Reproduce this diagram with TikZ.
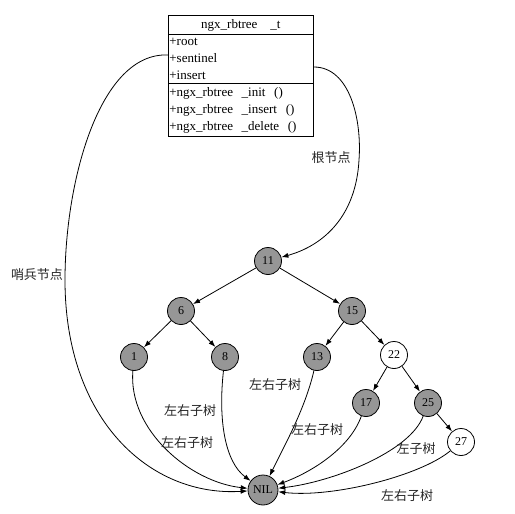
\documentclass[tikz,border=0pt]{standalone}
\usepackage{fontspec}
\setmainfont{Liberation Serif}
\newfontfamily\cjk{Noto Sans CJK SC}
\usepackage{tikz}
\usetikzlibrary{arrows.meta}
\usetikzlibrary{shapes.multipart}
\definecolor{nodeGray}{RGB}{150,150,150}

\begin{document}
\begin{tikzpicture}[x=1pt,y=-1pt]
\tikzset{
    keyNode/.style={
                   draw,
                   thick,
                   circle,
                   fill=nodeGray,
                   minimum size=27pt,
                   inner sep=0pt,
                   font=\fontsize{12}{12}\selectfont
    },
    redNode/.style={keyNode, fill=white},
    nilNode/.style={keyNode, minimum size=30pt},
    tagText/.style={font=\cjk\fontsize{13}{13}\selectfont, text=black!85}
}
    \useasboundingbox (0,0) rectangle (515,514);

    \node (rbt)[draw, thick, rectangle split, rectangle split parts=3,
        text width=143pt, inner xsep=1pt, inner ysep=3.3pt,
        font=\fontsize{13}{17}\selectfont, anchor=north west] at (168,15)
        {\makebox[143pt]{ngx\_rbtree\ \ \ \_t}
         \nodepart{second}\raggedright +root\\+sentinel\\+insert
         \nodepart{third}\raggedright +ngx\_rbtree\ \ \_init\ \ ()\\+ngx\_rbtree\ \ \_insert\ \ ()\\+ngx\_rbtree\ \ \_delete\ \ ()};

    \node (K11)[keyNode] at (268,261) {11};
    \node (K6)[keyNode] at (181,311) {6};
    \node (K15)[keyNode] at (352,311) {15};
    \node (K1)[keyNode] at (134,357) {1};
    \node (K8)[keyNode] at (225,357) {8};
    \node (K13)[keyNode] at (317,357) {13};
    \node (K22)[redNode] at (394,355) {22};
    \node (K17)[keyNode] at (366,403) {17};
    \node (K25)[keyNode] at (428,403) {25};
    \node (K27)[redNode] at (461,442) {27};
    \node (NIL)[nilNode] at (263,490) {NIL};

    \draw[->, thick, >={Latex[length=7pt,width=5pt]}] (K11) -- (K6);
    \draw[->, thick, >={Latex[length=7pt,width=5pt]}] (K11) -- (K15);
    \draw[->, thick, >={Latex[length=7pt,width=5pt]}] (K6) -- (K1);
    \draw[->, thick, >={Latex[length=7pt,width=5pt]}] (K6) -- (K8);
    \draw[->, thick, >={Latex[length=7pt,width=5pt]}] (K15) -- (K13);
    \draw[->, thick, >={Latex[length=7pt,width=5pt]}] (K15) -- (K22);
    \draw[->, thick, >={Latex[length=7pt,width=5pt]}] (K22) -- (K17);
    \draw[->, thick, >={Latex[length=7pt,width=5pt]}] (K22) -- (K25);
    \draw[->, thick, >={Latex[length=7pt,width=5pt]}] (K25) -- (K27);

    % struct fields to the tree
    \draw[->, thick, >={Latex[length=7pt,width=5pt]}] ([yshift=-52pt]rbt.north east)
        .. controls (350,67) and (362,120) .. (359,160)
        .. controls (356,215) and (325,245) .. (K11);
    \draw[->, thick, >={Latex[length=7pt,width=5pt]}] ([yshift=-40pt]rbt.north west)
        .. controls (100,52) and (65,180) .. (65,280)
        .. controls (65,420) and (150,497) .. (NIL);
    \node (rootTag)[tagText] at (331,158) {根节点};
    \node (sentTag)[tagText] at (37,275) {哨兵节点};

    % leaves to the sentinel
    \draw[->, thick, >={Latex[length=7pt,width=5pt]}] (K1) .. controls (128,430) and (190,482) .. (NIL);
    \draw[->, thick, >={Latex[length=7pt,width=5pt]}] (K8) .. controls (218,420) and (225,462) .. (NIL);
    \draw[->, thick, >={Latex[length=7pt,width=5pt]}] (K13) .. controls (305,410) and (282,450) .. (NIL);
    \draw[->, thick, >={Latex[length=7pt,width=5pt]}] (K17) .. controls (350,448) and (312,472) .. (NIL);
    \draw[->, thick, >={Latex[length=7pt,width=5pt]}] (K25) .. controls (410,452) and (332,482) .. (NIL);
    \draw[->, thick, >={Latex[length=7pt,width=5pt]}] (K27) .. controls (420,476) and (332,498) .. (NIL);
    \node (tag1)[tagText] at (187,443) {左右子树};
    \node (tag8)[tagText] at (190,411) {左右子树};
    \node (tag13)[tagText] at (275,385) {左右子树};
    \node (tag17)[tagText] at (317,430) {左右子树};
    \node (tag25)[tagText] at (416,449) {左子树};
    \node (tag27)[tagText] at (407,496) {左右子树};

\end{tikzpicture}
\end{document}
